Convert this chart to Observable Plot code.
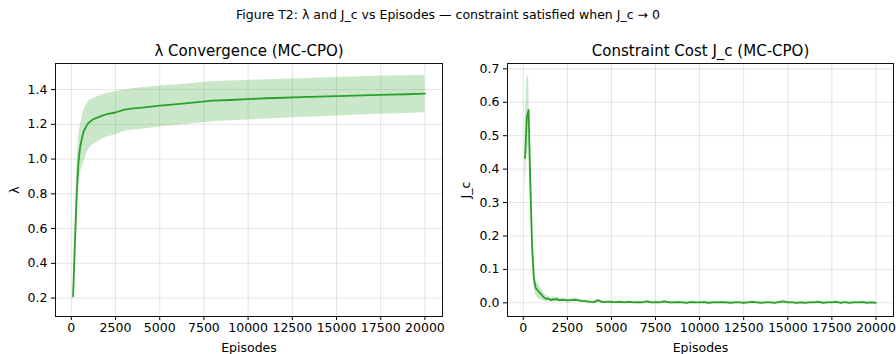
<!DOCTYPE html>
<html>
<head>
<meta charset="utf-8">
<script src="https://cdn.jsdelivr.net/npm/d3@7"></script>
<script src="https://cdn.jsdelivr.net/npm/@observablehq/plot@0.6"></script>
<style>
  body { margin: 0; background: #fff; font-family: "DejaVu Sans", sans-serif; }
  #wrap { width: 896px; height: 354px; overflow: hidden; }
  #title { height: 30px; line-height: 30px; text-align: center; font-size: 12.5px; color: #000; }
  #row { display: flex; width: 896px; height: 324px; }
</style>
</head>
<body>
<div id="wrap">
  <div id="title">Figure T2: λ and J_c vs Episodes — constraint satisfied when J_c → 0</div>
  <div id="row"></div>
</div>
<script>
// ---- Data ----
const xTicks = [0, 2500, 5000, 7500, 10000, 12500, 15000, 17500, 20000];
const lambdaTicks = [0.2, 0.4, 0.6, 0.8, 1.0, 1.2, 1.4];
const jcTicks = [0.0, 0.1, 0.2, 0.3, 0.4, 0.5, 0.6, 0.7];

const lambdaEpisodes = [100, 200, 300, 400, 500, 600, 700, 800, 900, 1000, 1250, 1500, 1750, 2000, 2500, 3000, 3500, 4000,
  5000, 6000, 7000, 8000, 9000, 10000, 11000, 12000, 13000, 14000, 15000, 16000, 17000, 18000, 19000, 20000];
const lambdaMean = [0.21, 0.50, 0.78, 0.98, 1.07, 1.12, 1.16, 1.18, 1.20, 1.21, 1.23, 1.24, 1.25, 1.258, 1.268, 1.285, 1.292, 1.296,
  1.307, 1.316, 1.326, 1.336, 1.340, 1.345, 1.350, 1.353, 1.356, 1.359, 1.362, 1.365, 1.368, 1.371, 1.373, 1.377];
const lambdaLo = [0.165, 0.42, 0.66, 0.83, 0.91, 0.95, 0.98, 1.01, 1.04, 1.06, 1.085, 1.10, 1.115, 1.125, 1.14, 1.16, 1.168, 1.172,
  1.185, 1.195, 1.205, 1.215, 1.22, 1.225, 1.23, 1.235, 1.24, 1.244, 1.248, 1.252, 1.256, 1.259, 1.262, 1.266];
const lambdaHi = [0.25, 0.60, 0.93, 1.12, 1.19, 1.24, 1.28, 1.30, 1.32, 1.335, 1.35, 1.36, 1.37, 1.378, 1.387, 1.397, 1.405, 1.41,
  1.42, 1.428, 1.437, 1.446, 1.45, 1.453, 1.456, 1.459, 1.462, 1.466, 1.47, 1.473, 1.476, 1.478, 1.48, 1.482];

const jcEpisodes = [100, 200, 300, 400, 500, 600, 700, 800, 900, 1000, 1100, 1200, 1300, 1400, 1500, 1600, 1700, 1800, 1900, 2000,
  2250, 2500, 2750, 3000, 3250, 3500, 3750, 4000, 4250, 4500, 4750, 5000, 5250, 5500, 5750, 6000, 6250, 6500, 6750, 7000,
  7250, 7500, 7750, 8000, 8250, 8500, 8750, 9000, 9250, 9500, 9750, 10000, 10250, 10500, 10750, 11000, 11250, 11500, 11750, 12000,
  12250, 12500, 12750, 13000, 13250, 13500, 13750, 14000, 14250, 14500, 14750, 15000, 15250, 15500, 15750, 16000, 16250, 16500, 16750, 17000,
  17250, 17500, 17750, 18000, 18250, 18500, 18750, 19000, 19250, 19500, 19750, 20000];
const jcMean = [0.433, 0.555, 0.577, 0.36, 0.17, 0.075, 0.045, 0.038, 0.032, 0.027, 0.020, 0.015, 0.012, 0.013, 0.010, 0.008, 0.011, 0.009, 0.012, 0.008,
  0.009, 0.007, 0.008, 0.009, 0.006, 0.005, 0.003, 0.002, 0.007, 0.002, 0.003, 0.003, 0.002, 0.003, 0.001, 0.003, 0.001, 0.002, 0.001, 0.004,
  0.001, 0.002, 0.001, 0.004, 0.001, 0.001, 0.002, 0.001, 0.000, 0.002, 0.001, 0.001, 0.002, 0.000, 0.001, 0.001, 0.002, 0.001, 0.000, 0.001,
  0.001, 0.000, 0.001, 0.003, 0.001, 0.000, 0.001, 0.001, 0.000, 0.002, 0.004, 0.001, 0.001, 0.000, 0.001, 0.000, 0.001, 0.001, 0.003, 0.000,
  0.001, 0.001, 0.003, 0.000, 0.002, 0.000, 0.001, 0.001, 0.002, 0.000, 0.001, 0.000];
const jcSpread = [0.09, 0.12, 0.10, 0.06, 0.04, 0.025, 0.020, 0.022, 0.022, 0.017, 0.014, 0.011, 0.009, 0.008, 0.007, 0.006, 0.007, 0.006, 0.007, 0.006,
  0.005, 0.005, 0.005, 0.005, 0.004, 0.004, 0.003, 0.003, 0.004, 0.003, 0.003, 0.003, 0.003, 0.003, 0.003, 0.003, 0.003, 0.003, 0.003, 0.003,
  0.003, 0.003, 0.003, 0.003, 0.003, 0.003, 0.003, 0.003, 0.003, 0.003, 0.003, 0.003, 0.003, 0.003, 0.003, 0.003, 0.003, 0.003, 0.003, 0.003,
  0.003, 0.003, 0.003, 0.003, 0.003, 0.003, 0.003, 0.003, 0.003, 0.003, 0.003, 0.003, 0.003, 0.003, 0.003, 0.003, 0.003, 0.003, 0.003, 0.003,
  0.003, 0.003, 0.003, 0.003, 0.003, 0.003, 0.003, 0.003, 0.003, 0.003, 0.003, 0.003];

// ---- Build tables ----
const lambdaData = lambdaEpisodes.map((e, i) => ({ep: e, mean: lambdaMean[i], lo: lambdaLo[i], hi: lambdaHi[i]}));
const jcData = jcEpisodes.map((e, i) => ({ep: e, mean: jcMean[i], lo: jcMean[i] - jcSpread[i], hi: jcMean[i] + jcSpread[i]}));

const green = "#2ca02c";
const font = "DejaVu Sans, sans-serif";

function panel({data, title, yLabel, yDomain, yTicks, marginLeft, marginRight, yLabelOffset}) {
  return Plot.plot({
    width: 448,
    height: 324,
    marginTop: 33,
    marginBottom: 38,
    marginLeft,
    marginRight,
    style: {fontFamily: font, fontSize: "12.5px", color: "#000", background: "#fff", overflow: "visible"},
    x: {domain: [-895, 20995], type: "linear"},
    y: {domain: yDomain, type: "linear"},
    marks: [
      Plot.gridX(xTicks, {stroke: "#000", strokeOpacity: 0.1, strokeWidth: 1}),
      Plot.gridY(yTicks, {stroke: "#000", strokeOpacity: 0.1, strokeWidth: 1}),
      Plot.areaY(data, {x: "ep", y1: "lo", y2: "hi", fill: green, fillOpacity: 0.25, curve: "linear"}),
      Plot.lineY(data, {x: "ep", y: "mean", stroke: green, strokeWidth: 1.8, curve: "linear"}),
      Plot.frame({stroke: "#111", strokeWidth: 1}),
      Plot.axisX(xTicks, {tickFormat: d3.format("d"), tickSize: 4, tickPadding: 3, label: "Episodes", labelAnchor: "center", labelArrow: "none", labelOffset: 35, fontSize: 12.5}),
      Plot.axisY(yTicks, {tickFormat: d3.format(".1f"), tickSize: 4, tickPadding: 4, label: yLabel, labelAnchor: "center", labelArrow: "none", labelOffset: yLabelOffset, fontSize: 12.5}),
      Plot.text([title], {frameAnchor: "top", dy: -12, fontSize: 15, textAnchor: "middle", lineAnchor: "middle", fill: "#000"})
    ]
  });
}

const row = document.getElementById("row");
row.appendChild(panel({data: lambdaData, title: "λ Convergence (MC-CPO)", yLabel: "λ", yDomain: [0.094, 1.55], yTicks: lambdaTicks, marginLeft: 55, marginRight: 6, yLabelOffset: 45}));
row.appendChild(panel({data: jcData, title: "Constraint Cost J_c (MC-CPO)", yLabel: "J_c", yDomain: [-0.041, 0.716], yTicks: jcTicks, marginLeft: 59, marginRight: 3, yLabelOffset: 46}));
</script>
</body>
</html>
